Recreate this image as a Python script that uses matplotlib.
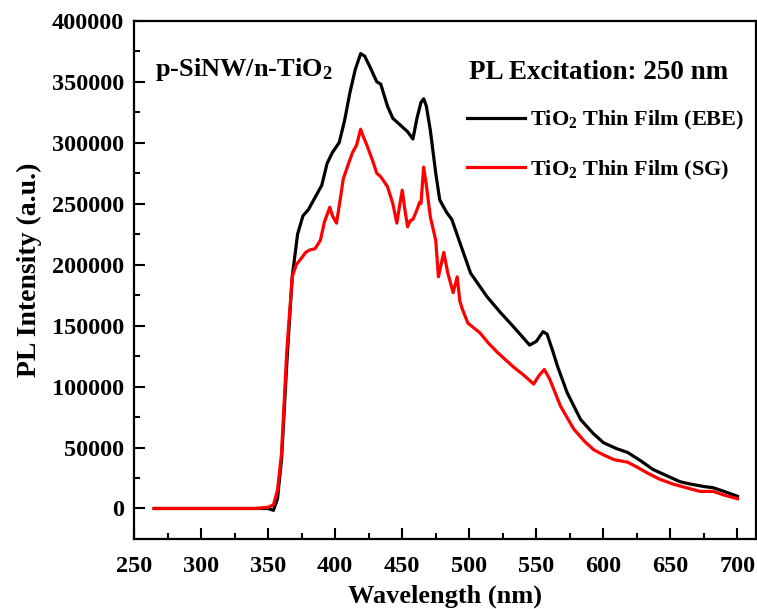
import matplotlib
matplotlib.use("Agg")
import matplotlib.pyplot as plt

plt.rcParams["font.family"] = "Liberation Serif"
plt.rcParams["font.weight"] = "bold"
plt.rcParams["mathtext.fontset"] = "custom"
plt.rcParams["mathtext.rm"] = "Liberation Serif:bold"
plt.rcParams["mathtext.bf"] = "Liberation Serif:bold"
plt.rcParams["mathtext.it"] = "Liberation Serif:bold:italic"

# PL spectrum, TiO2 film by electron beam evaporation
wl_ebe = [265, 300, 340, 350, 354, 357, 360, 364, 368, 372, 376, 380, 385, 390,
          394, 398, 403, 407, 411, 415, 419, 422, 426, 431, 434, 439, 443, 448,
          454, 458, 461, 464, 466, 468, 471, 475, 478, 483, 487, 493, 501, 513,
          523, 533, 545, 550, 555, 558, 562, 566, 573, 583, 592, 600, 610, 618,
          628, 637, 647, 657, 665, 675, 682, 690, 700]
pl_ebe = [0, 0, 0, 0, -1500, 8000, 40000, 120000, 190000, 225000, 240000, 245000,
          255000, 265000, 283000, 292000, 300000, 318000, 341000, 360000, 373000,
          371000, 362000, 350000, 348000, 330000, 320000, 315000, 309000, 303000,
          320000, 333000, 336000, 330000, 310000, 275000, 253000, 243000, 237000,
          218000, 193000, 174000, 161000, 149000, 134000, 137000, 145000, 143000,
          130000, 116000, 95000, 73000, 62000, 54000, 49000, 46000, 39000, 32000,
          27000, 22000, 20000, 18000, 17000, 14000, 10000]

# PL spectrum, TiO2 film by sol-gel
wl_sg = [265, 300, 340, 350, 354, 357, 360, 364, 368, 371, 374, 378, 381, 385,
         389, 392, 396, 398, 401, 404, 406, 410, 413, 416, 419, 421, 424, 428,
         431, 434, 439, 443, 446, 448, 450, 452, 454, 456, 458, 461, 463, 464,
         466, 468, 471, 475, 477, 479, 481, 484, 488, 491, 493, 495, 499, 508,
         514, 521, 533, 541, 548, 552, 556, 560, 564, 568, 578, 586, 593, 600,
         608, 618, 625, 633, 642, 652, 662, 672, 682, 690, 700]
pl_sg = [0, 0, 0, 1000, 3000, 15000, 45000, 130000, 190000, 200000, 204000,
         210000, 212000, 213000, 220000, 235000, 247000, 240000, 234000, 255000,
         270000, 283000, 292000, 298000, 311000, 305000, 297000, 285000, 275000,
         272000, 264000, 250000, 234000, 248000, 261000, 245000, 231000, 236000,
         237000, 245000, 251000, 250000, 280000, 265000, 239000, 220000, 190000,
         200000, 210000, 193000, 177000, 190000, 170000, 163000, 152000, 144000,
         136000, 128000, 116000, 109000, 102000, 109000, 114000, 106000, 95000,
         84000, 65000, 55000, 48000, 44000, 40000, 38000, 34000, 29000, 24000,
         20000, 17000, 14000, 14000, 11000, 8000]

x_ticks = list(range(250, 701, 50))
y_ticks = list(range(0, 400001, 50000))

fig = plt.figure(figsize=(7.57, 6.09), dpi=100)
ax = fig.add_axes([0.177, 0.115, 0.822, 0.851])

ax.plot(wl_ebe, pl_ebe, color="black", lw=2.3, label=r"TiO$_\mathbf{2}$ Thin Film (EBE)")
ax.plot(wl_sg, pl_sg, color="#ff0000", lw=2.3, label=r"TiO$_\mathbf{2}$ Thin Film (SG)")

ax.set_xlim(250, 714)
ax.set_ylim(-25000, 400000)
ax.set_xticks(x_ticks)
ax.set_yticks(y_ticks)
ax.set_xticks(range(275, 701, 50), minor=True)
ax.set_yticks(range(25000, 400000, 50000), minor=True)
ax.set_xticklabels([str(v) for v in x_ticks])
ax.set_yticklabels([str(v) for v in y_ticks])

ax.tick_params(which="both", direction="in", width=1.5, labelsize=17.5)
ax.tick_params(which="major", length=8)
ax.tick_params(which="minor", length=4)
ax.tick_params(axis="x", pad=12)
ax.tick_params(axis="y", pad=7)
for s in ax.spines.values():
    s.set_linewidth(1.6)

ax.set_xlabel("Wavelength (nm)", fontsize=19, fontweight="bold", labelpad=6)
ax.set_ylabel("PL Intensity (a.u.)", fontsize=20, fontweight="bold",
              labelpad=7, y=0.52)

ax.text(0.034, 0.905, r"p-SiNW/n-TiO$_\mathbf{2}$", transform=ax.transAxes,
        fontsize=19, fontweight="bold", va="center", ha="left")
ax.text(0.539, 0.9, "PL Excitation: 250 nm", transform=ax.transAxes,
        fontsize=19.5, fontweight="bold", va="center", ha="left")

ax.legend(loc="upper left", bbox_to_anchor=(0.535, 0.83), frameon=False,
          fontsize=16, handlelength=2.6, handletextpad=0.25, labelspacing=1.2,
          borderpad=0, borderaxespad=0)

fig.savefig("out.png", dpi=100, facecolor="white")
